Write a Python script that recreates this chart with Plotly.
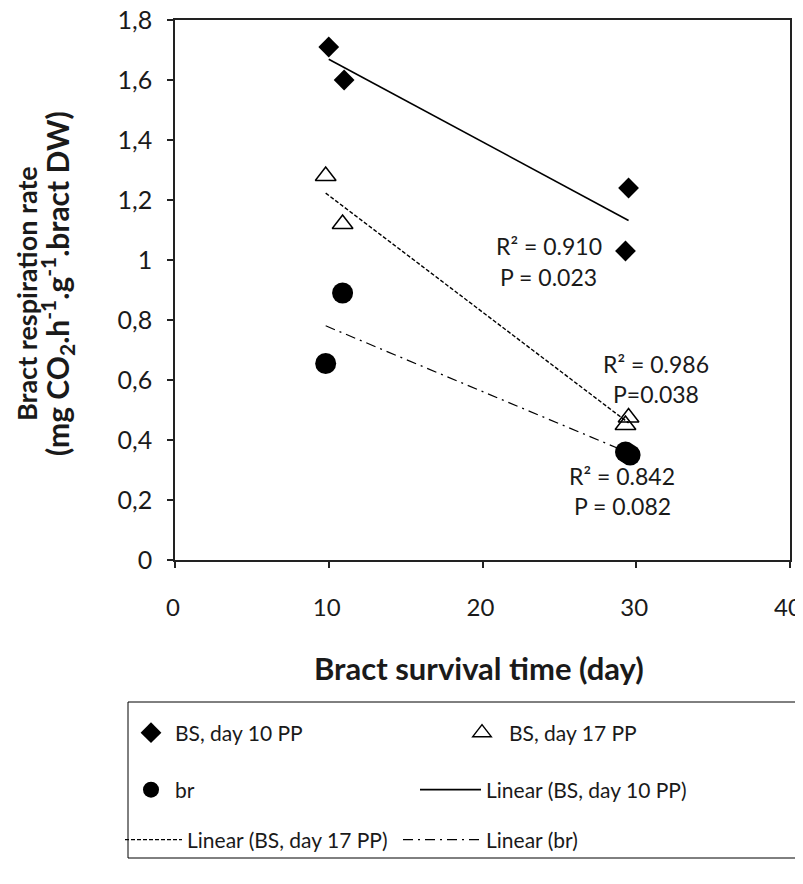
import numpy as np
import plotly.graph_objects as go

# ---- data ----
x_bs10 = [10.0, 11.0, 29.5, 29.3]
y_bs10 = [1.71, 1.60, 1.24, 1.03]

x_bs17 = [9.8, 10.9, 29.5, 29.3]
y_bs17 = [1.28, 1.12, 0.475, 0.45]

x_br = [9.8, 10.9, 29.3, 29.6]
y_br = [0.655, 0.89, 0.36, 0.35]

y_tickvals = [0, 0.2, 0.4, 0.6, 0.8, 1.0, 1.2, 1.4, 1.6, 1.8]
y_ticktext = ["0", "0,2", "0,4", "0,6", "0,8", "1", "1,2", "1,4", "1,6", "1,8"]
x_tickvals = [0, 10, 20, 30, 40]
x_ticktext = ["0", "10", "20", "30", "40"]

stats_r2 = ["R² = 0.910", "R² = 0.986", "R² = 0.842"]
stats_p = ["P = 0.023", "P=0.038", "P = 0.082"]

FONT = "Lato, Open Sans, sans-serif"
TXT = "#1a1a1a"

# page geometry: the html body adds an 8px margin, so work in screen pixels
OFF = 8
W, H = 803 - OFF, 884 - OFF
PLOT_L, PLOT_R, PLOT_T, PLOT_B = 175, 790, 20, 560   # screen pixels
ML, MR, MT, MB = PLOT_L - OFF, W - (PLOT_R - OFF), PLOT_T - OFF, H - (PLOT_B - OFF)
PW, PH = W - ML - MR, H - MT - MB


def sx(px):  # screen px -> paper x
    return (px - OFF - ML) / PW


def sy(py):  # screen px -> paper y
    return (H - MB - (py - OFF)) / PH


def cx(px):  # screen px -> container x
    return (px - OFF) / W


def cy(py):  # screen px -> container y
    return 1 - (py - OFF) / H


def trend(xs, ys):
    k, b = np.polyfit(xs, ys, 1)
    xx = np.array([min(xs), max(xs)])
    return xx, k * xx + b


fig = go.Figure()

fig.add_trace(go.Scatter(x=x_bs10, y=y_bs10, mode="markers", name="BS, day 10 PP",
                         legend="legend",
                         marker=dict(symbol="diamond", size=16, color="black")))
fig.add_trace(go.Scatter(x=x_bs17, y=y_bs17, mode="markers", name="BS, day 17 PP",
                         legend="legend2",
                         marker=dict(symbol="triangle-up-open", size=18, color="black",
                                     line=dict(width=1.5, color="black"))))
fig.add_trace(go.Scatter(x=x_br, y=y_br, mode="markers", name="br",
                         legend="legend3",
                         marker=dict(symbol="circle", size=21, color="black")))

tx, ty = trend(x_bs10, y_bs10)
fig.add_trace(go.Scatter(x=tx, y=ty, mode="lines", name="Linear (BS, day 10 PP)",
                         legend="legend4",
                         line=dict(color="black", width=1.6)))
tx, ty = trend(x_bs17, y_bs17)
fig.add_trace(go.Scatter(x=tx, y=ty, mode="lines", name="Linear (BS, day 17 PP)",
                         legend="legend5",
                         line=dict(color="black", width=1.4, dash="4px,2px")))
tx, ty = trend(x_br, y_br)
fig.add_trace(go.Scatter(x=tx, y=ty, mode="lines", name="Linear (br)",
                         legend="legend6",
                         line=dict(color="black", width=1.2, dash="10px,5px,2px,5px")))

# statistic labels: (center x, R² line y, P line y) in data coords
stat_pos = [(24.3, 1.047, 0.943), (31.3, 0.652, 0.552), (29.1, 0.281, 0.181)]
annotations = []
for (px_, ry, py_), r2, p in zip(stat_pos, stats_r2, stats_p):
    for txt, yy in ((r2, ry), (p, py_)):
        annotations.append(dict(x=px_, y=yy, xref="x", yref="y", text=txt,
                                showarrow=False, xanchor="center", yanchor="middle",
                                font=dict(family=FONT, size=23, color=TXT)))

annotations.append(dict(x=sx(479), y=sy(668), xref="paper", yref="paper",
                        text="<b>Bract survival time (day)</b>", showarrow=False,
                        xanchor="center", yanchor="middle",
                        font=dict(family=FONT, size=31, color=TXT)))
annotations.append(dict(x=sx(26), y=sy(294), xref="paper", yref="paper",
                        text="<b>Bract respiration rate</b>",
                        showarrow=False, textangle=-90, xanchor="center", yanchor="middle",
                        font=dict(family=FONT, size=27, color=TXT)))
annotations.append(dict(x=sx(57), y=sy(284), xref="paper", yref="paper",
                        text="<b>(mg CO<sub>2</sub>.h<sup>-1</sup>.g<sup>-1</sup>.bract DW)</b>",
                        showarrow=False, textangle=-90, xanchor="center", yanchor="middle",
                        font=dict(family=FONT, size=30, color=TXT)))


def leg(xs, ys, itemw):
    return dict(orientation="h", xanchor="left", yanchor="middle",
                xref="container", yref="container", x=cx(xs), y=cy(ys),
                bgcolor="rgba(0,0,0,0)", borderwidth=0, itemwidth=itemw,
                font=dict(family=FONT, size=21, color=TXT))


ROW1, ROW2, ROW3 = 733, 790, 840

fig.update_layout(
    width=W, height=H,
    margin=dict(l=ML, r=MR, t=MT, b=MB, autoexpand=False),
    paper_bgcolor="white", plot_bgcolor="white",
    font=dict(family=FONT, color=TXT),
    showlegend=True,
    legend=leg(127, ROW1, 38),
    legend2=leg(455, ROW1, 44),
    legend3=leg(127, ROW2, 38),
    legend4=leg(415, ROW2, 61),
    legend5=leg(120, ROW3, 57),
    legend6=leg(398, ROW3, 78),
    annotations=annotations,
    shapes=[dict(type="rect", xref="paper", yref="paper",
                 x0=sx(128), x1=sx(798), y0=sy(858), y1=sy(702),
                 line=dict(color="black", width=1), fillcolor="rgba(0,0,0,0)")],
)

fig.update_xaxes(range=[0, 40], tickvals=x_tickvals, ticktext=x_ticktext,
                 ticks="outside", ticklen=6,
                 tickwidth=1.5, tickcolor="#222", showline=True, linecolor="#222",
                 linewidth=1.5, mirror=True, showgrid=False, zeroline=False,
                 automargin=False, ticklabeloverflow="allow", ticklabelshift=-2,
                 ticklabelstandoff=19, tickfont=dict(family=FONT, size=24, color=TXT))
fig.update_yaxes(range=[0, 1.8], tickvals=y_tickvals, ticktext=y_ticktext, ticks="outside",
                 ticklen=6, tickwidth=1.5, tickcolor="#222", showline=True, linecolor="#222",
                 linewidth=1.5, mirror=True, showgrid=False, zeroline=False,
                 automargin=False, ticklabeloverflow="allow",
                 ticklabelstandoff=10, tickfont=dict(family=FONT, size=25, color=TXT))

fig.write_html("out.html")
